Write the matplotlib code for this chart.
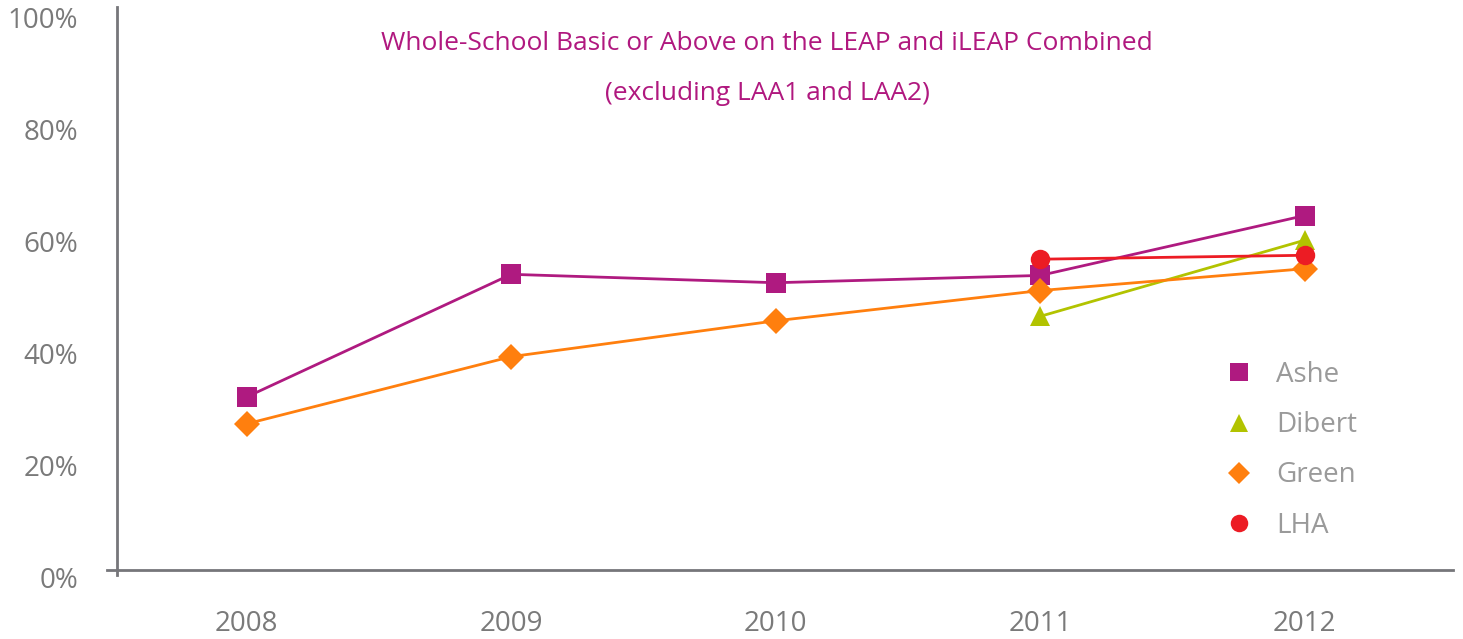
import matplotlib
matplotlib.use("Agg")
import matplotlib.pyplot as plt
from matplotlib.lines import Line2D
import matplotlib.transforms as mtransforms

years = ["2008", "2009", "2010", "2011", "2012"]
ashe = [30.9, 52.8, 51.3, 52.6, 63.3]
dibert = [None, None, None, 45.3, 58.9]
green = [26.1, 38.1, 44.5, 49.9, 53.8]
lha = [None, None, None, 55.5, 56.2]
yticks = [0, 20, 40, 60, 80, 100]
ytick_labels = ["0%", "20%", "40%", "60%", "80%", "100%"]

title_line1 = "Whole-School Basic or Above on the LEAP and iLEAP Combined"
title_line2 = "(excluding LAA1 and LAA2)"

plt.rcParams['font.family'] = ['Open Sans', 'DejaVu Sans']

W, H = 1463, 639
fig = plt.figure(figsize=(W / 100, H / 100), dpi=100)
ax = fig.add_axes([117 / W, (H - 570) / H, (1453 - 117) / W, (570 - 10) / H])

series = [
    ("Ashe", ashe, "#AF1A80", "s", 14),
    ("Dibert", dibert, "#B2C300", "^", 14),
    ("Green", green, "#FF7F0E", "D", 13),
    ("LHA", lha, "#EC1C24", "o", 14),
]
x = list(range(len(years)))
handles = []
for name, vals, col, mk, ms in series:
    xs = [xi for xi, v in zip(x, vals) if v is not None]
    ys = [v for v in vals if v is not None]
    ax.plot(xs, ys, color=col, lw=2, marker=mk, markersize=ms,
            markeredgewidth=0, zorder=3)
    handles.append(Line2D([], [], color=col, marker=mk, linestyle="none",
                          markersize=ms * 0.9, markeredgewidth=0))

ax.set_xlim(-0.49, 4.56)
ax.set_ylim(0, 100)

for s in ax.spines.values():
    s.set_visible(False)
axcol = "#76767A"
ax.plot([-0.0075, 1], [0, 0], transform=ax.transAxes, color=axcol, lw=2, clip_on=False)
ax.plot([0, 0], [-0.009, 1.005], transform=ax.transAxes, color=axcol, lw=2, clip_on=False)

ax.set_xticks(x)
ax.set_xticklabels(years)
ax.set_yticks(yticks)
ax.set_yticklabels(ytick_labels)
ax.tick_params(axis="both", length=0, labelsize=20, labelcolor="#7A7A7A")
ax.tick_params(axis="x", pad=29)
ax.tick_params(axis="y", pad=28)
off = mtransforms.ScaledTranslation(0, -8 / 100, fig.dpi_scale_trans)
for lab in ax.get_yticklabels():
    lab.set_transform(lab.get_transform() + off)
    lab.set_horizontalalignment("right")

fig.text(767 / W, 1 - 44 / H, title_line1, ha="center", va="center",
         fontsize=19, color="#B0187F")
fig.text(767 / W, 1 - 93 / H, title_line2, ha="center", va="center",
         fontsize=19, color="#B0187F")

leg = ax.legend(handles, [s[0] for s in series], loc="upper left",
                bbox_to_anchor=((1200 - 117) / (1453 - 117), (570 - 336) / 560),
                frameon=False, fontsize=20, labelcolor="#9A9A9A",
                handlelength=1.0, handletextpad=0.85, labelspacing=0.8)

fig.savefig("out.png", dpi=100)
